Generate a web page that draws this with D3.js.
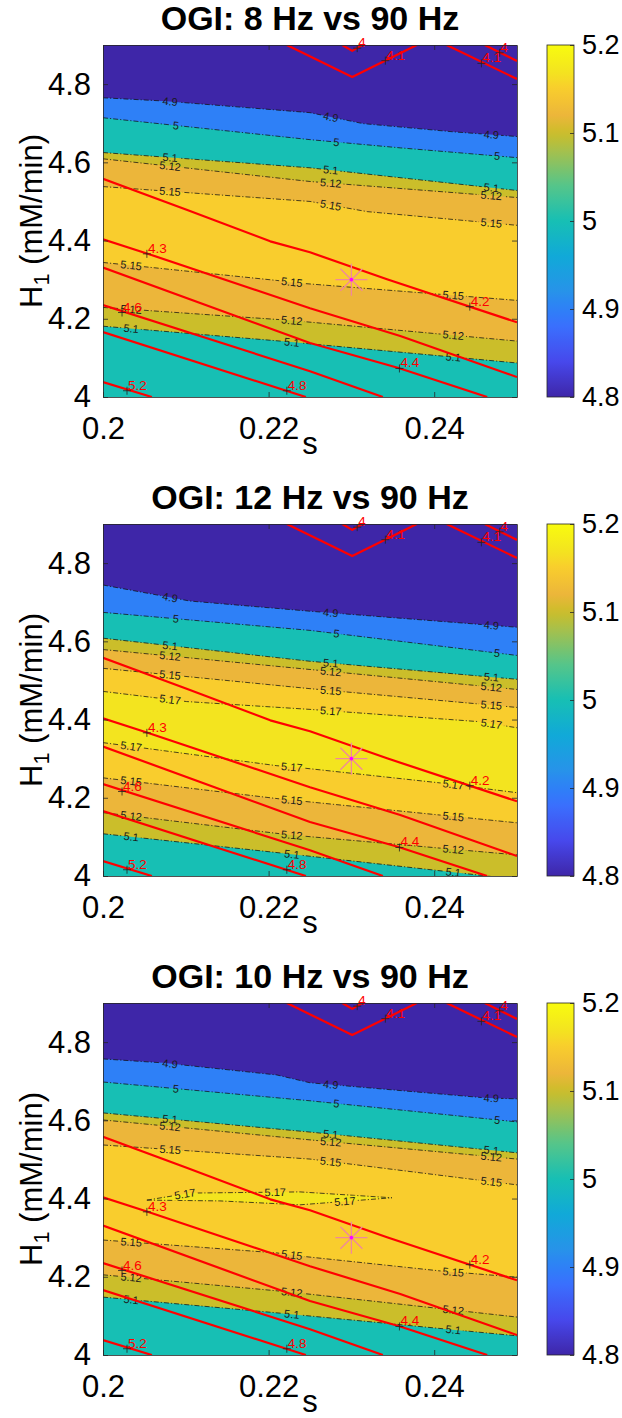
<!DOCTYPE html>
<html><head><meta charset="utf-8">
<script src="https://cdn.jsdelivr.net/npm/d3@7"></script>
<style>
body{margin:0;background:#fff}
svg{display:block}
text{font-family:"Liberation Sans",Arial,Helvetica,sans-serif}
</style>
</head><body>
<svg id="c" width="622" height="1418"></svg>
<script>
// ---------------- DATA ----------------
const sDomain = [0.2, 0.25];
const hDomain = [4, 4.9];
const sTicks = [0.2, 0.22, 0.24];
const hTicks = [4, 4.2, 4.4, 4.6, 4.8];
const cbTicks = [4.8, 4.9, 5, 5.1, 5.2];
const cbDomain = [4.8, 5.2];
const titles = ["OGI: 8 Hz vs 90 Hz", "OGI: 12 Hz vs 90 Hz", "OGI: 10 Hz vs 90 Hz"];
const fillLevels = [4.8, 4.9, 5, 5.1, 5.12, 5.15, 5.17];

// label positions (s) along contour branches
const upperLabelS = [0.2081, 0.2275, 0.2469];
const lowerLabelS = [0.2034, 0.2228, 0.2423];
const islandLabelS = [0.2099, 0.2208, 0.2292];

// Panel 1 contours (8 Hz)
const panel1Contours = [
  {level: 4.9,  upper: [[0.2,4.765],[0.2072,4.757],[0.225,4.727],[0.2314,4.699],[0.2423,4.678],[0.25,4.666]], lower: null},
  {level: 5,    upper: [[0.2,4.714],[0.225,4.658],[0.2359,4.637],[0.25,4.612]], lower: null},
  {level: 5.1,  upper: [[0.2,4.625],[0.225,4.586],[0.25,4.528]], lower: [[0.2,4.181],[0.2214,4.143],[0.25,4.087]]},
  {level: 5.12, upper: [[0.2,4.609],[0.225,4.551],[0.25,4.510]], lower: [[0.2,4.229],[0.2226,4.196],[0.25,4.143]]},
  {level: 5.15, upper: [[0.2,4.538],[0.225,4.500],[0.2319,4.474],[0.25,4.439]], lower: [[0.2,4.344],[0.221,4.298],[0.2238,4.291],[0.25,4.247]]}
];
// Panel 2 contours (12 Hz)
const panel2Contours = [
  {level: 4.9,  upper: [[0.2,4.744],[0.2105,4.703],[0.225,4.677],[0.25,4.636]], lower: null},
  {level: 5,    upper: [[0.2,4.674],[0.225,4.628],[0.25,4.564]], lower: null},
  {level: 5.1,  upper: [[0.2,4.608],[0.225,4.549],[0.25,4.503]], lower: [[0.2,4.108],[0.2214,4.059],[0.2464,4.0],[0.25,3.99]]},
  {level: 5.12, upper: [[0.2,4.579],[0.225,4.528],[0.25,4.477]], lower: [[0.2,4.162],[0.2226,4.105],[0.25,4.054]]},
  {level: 5.15, upper: [[0.2,4.531],[0.225,4.479],[0.25,4.431]], lower: [[0.2,4.251],[0.2214,4.197],[0.25,4.136]]},
  {level: 5.17, upper: [[0.2,4.472],[0.2101,4.446],[0.225,4.426],[0.2452,4.395],[0.25,4.379]], lower: [[0.2,4.341],[0.221,4.282],[0.2238,4.277],[0.2407,4.238],[0.25,4.213]]}
];
// Panel 3 contours (10 Hz)
const panel3Contours = [
  {level: 4.9,  upper: [[0.2,4.757],[0.2072,4.747],[0.221,4.716],[0.225,4.696],[0.2464,4.657],[0.25,4.655]], lower: null},
  {level: 5,    upper: [[0.2,4.698],[0.225,4.650],[0.25,4.596]], lower: null},
  {level: 5.1,  upper: [[0.2,4.619],[0.225,4.570],[0.25,4.517]], lower: [[0.2,4.148],[0.2214,4.107],[0.25,4.049]]},
  {level: 5.12, upper: [[0.2,4.601],[0.225,4.550],[0.25,4.501]], lower: [[0.2,4.205],[0.2226,4.161],[0.25,4.097]]},
  {level: 5.15, upper: [[0.2,4.537],[0.225,4.501],[0.25,4.435]], lower: [[0.2,4.294],[0.221,4.261],[0.2238,4.253],[0.2407,4.215],[0.25,4.199]]},
  {level: 5.17, island: true, upper: [[0.2053,4.396],[0.2105,4.414],[0.2238,4.417],[0.2349,4.402]], lower: [[0.2053,4.396],[0.2141,4.394],[0.2238,4.384],[0.2349,4.402]]}
];
const panelContours = [panel1Contours, panel2Contours, panel3Contours];

// Red overlay contour lines (same in every panel)
const redLines = [
  [[0.2289,4.9],[0.2301,4.885],[0.2313,4.9]],
  [[0.2222,4.9],[0.2301,4.818],[0.2379,4.9]],
  [[0.2461,4.9],[0.25,4.859]],
  [[0.2415,4.9],[0.25,4.813]],
  [[0.2,4.558],[0.2101,4.479],[0.2202,4.398],[0.225,4.370],[0.2343,4.301],[0.25,4.191]],
  [[0.2,4.403],[0.2053,4.367],[0.225,4.227],[0.2359,4.156],[0.25,4.051]],
  [[0.2,4.331],[0.225,4.138],[0.2357,4.074],[0.2464,4.0]],
  [[0.2,4.235],[0.225,4.066],[0.2338,4.0]],
  [[0.2,4.166],[0.2245,4.0]],
  [[0.2,4.038],[0.2059,4.0]]
];
const redLabelText = ["4", "4.1", "4", "4.1", "4.2", "4.3", "4.4", "4.6", "4.8", "5.2"];
const redLabelS    = [0.2307, 0.2341, 0.2479, 0.2457, 0.2443, 0.2053, 0.2358, 0.2023, 0.2222, 0.2029];
const redLabelH    = [4.892, 4.860, 4.880, 4.853, 4.231, 4.366, 4.073, 4.216, 4.016, 4.016];

const optimum = [0.23, 4.3];

// parula-like colormap stops (t, colour)
const parulaT = [0, 0.1, 0.2, 0.25, 0.3, 0.4, 0.5, 0.6, 0.7, 0.75, 0.8, 0.875, 0.925, 1];
const parulaC = ["#3e26a8","#4748ec","#3a6ffd","#2e80f7","#2793e9","#11a9d8","#17bfb4","#55c58a","#a6c04c","#cbbe2a","#ecb63a","#f9cd2d","#f3e41f","#f9fb0e"];

// ---------------- LAYOUT ----------------
const plotX = [103, 517];
const panelTops = [45, 524, 1003];
const plotH = 352;
const cbX = [547, 574];
const axisCol = "#262626";
const tickFont = 31;

const svg = d3.select("#c");
const defs = svg.append("defs");
const x = d3.scaleLinear().domain(sDomain).range(plotX);
const parula = d3.scaleLinear().domain(parulaT).range(parulaC).interpolate(d3.interpolateRgb);
const cmap = v => parula((v - cbDomain[0]) / (cbDomain[1] - cbDomain[0]));

const grad = defs.append("linearGradient").attr("id", "cbgrad")
  .attr("x1", 0).attr("y1", 1).attr("x2", 0).attr("y2", 0);
d3.range(0, 1.0001, 0.02).forEach(t => {
  grad.append("stop").attr("offset", t).attr("stop-color", parula(t));
});

function interpAt(pts, s, y) {
  for (let k = 0; k < pts.length - 1; k++) {
    const a = pts[k], b = pts[k + 1];
    if ((s >= a[0] && s <= b[0]) || (s <= a[0] && s >= b[0])) {
      const t = (s - a[0]) / (b[0] - a[0] || 1);
      const h = a[1] + t * (b[1] - a[1]);
      const ang = Math.atan2(y(b[1]) - y(a[1]), x(b[0]) - x(a[0])) * 180 / Math.PI;
      return {px: x(s), py: y(h), ang};
    }
  }
  return null;
}

panelContours.forEach((contours, i) => {
  const top = panelTops[i], bot = top + plotH;
  const y = d3.scaleLinear().domain(hDomain).range([bot, top]);
  const line = d3.line().x(d => x(d[0])).y(d => y(d[1]));
  const g = svg.append("g");

  const clipId = "clip" + i;
  defs.append("clipPath").attr("id", clipId).append("rect")
    .attr("x", plotX[0]).attr("y", top).attr("width", plotX[1] - plotX[0]).attr("height", plotH);

  const plot = g.append("g").attr("clip-path", `url(#${clipId})`);
  plot.append("rect").attr("x", plotX[0]).attr("y", top)
    .attr("width", plotX[1] - plotX[0]).attr("height", plotH).attr("fill", cmap(fillLevels[0]));
  contours.forEach(c => {
    const poly = c.lower ? c.upper.concat(c.lower.slice().reverse())
      : c.upper.concat([[sDomain[1], hDomain[0] - 0.3], [sDomain[0], hDomain[0] - 0.3]]);
    plot.append("path").attr("d", line(poly) + "Z").attr("fill", cmap(c.level));
  });

  const maskId = "mask" + i;
  const mask = defs.append("mask").attr("id", maskId).attr("maskUnits", "userSpaceOnUse")
    .attr("x", 0).attr("y", 0).attr("width", 622).attr("height", 1418);
  mask.append("rect").attr("x", 0).attr("y", 0).attr("width", 622).attr("height", 1418).attr("fill", "#fff");
  const lineG = plot.append("g").attr("mask", `url(#${maskId})`);
  const labG = plot.append("g");
  contours.forEach(c => {
    const branches = [];
    if (c.island) {
      branches.push({pts: c.upper, labs: [islandLabelS[0], islandLabelS[1]]});
      branches.push({pts: c.lower, labs: [islandLabelS[2]]});
    } else {
      branches.push({pts: c.upper, labs: c.level === 5 ? upperLabelS.map(v => v + 0.0007) : upperLabelS});
      if (c.lower) branches.push({pts: c.lower, labs: lowerLabelS});
    }
    branches.forEach(b => {
      lineG.append("path").attr("d", line(b.pts)).attr("fill", "none")
        .attr("stroke", "#111").attr("stroke-width", 0.75)
        .attr("stroke-dasharray", "5,2,1.2,2");
      b.labs.forEach(s => {
        const p = interpAt(b.pts, s, y);
        if (!p) return;
        const tr = `translate(${p.px},${p.py}) rotate(${p.ang})`;
        const t = labG.append("text").attr("transform", tr)
          .attr("text-anchor", "middle").attr("dy", "0.35em")
          .attr("font-size", 11).attr("fill", "#1a1a1a").text(String(c.level));
        const w = t.node().getComputedTextLength();
        mask.append("rect").attr("transform", tr).attr("x", -w / 2 - 2).attr("y", -5)
          .attr("width", w + 4).attr("height", 10).attr("fill", "#000");
      });
    });
  });

  redLines.forEach(r => {
    plot.append("path").attr("d", line(r)).attr("fill", "none")
      .attr("stroke", "#ff0000").attr("stroke-width", 2.2).attr("stroke-linejoin", "round");
  });
  redLabelText.forEach((txt, k) => {
    const px = x(redLabelS[k]), py = y(redLabelH[k]);
    plot.append("path").attr("d", `M${px - 4},${py}H${px + 4}M${px},${py - 4}V${py + 4}`)
      .attr("stroke", "#222").attr("stroke-width", 0.8);
  });

  const ox = x(optimum[0]), oy = y(optimum[1]);
  const star = plot.append("g").attr("stroke", "#f0889c").attr("stroke-width", 1.3);
  star.append("path").attr("d", `M${ox - 16},${oy}H${ox + 16}M${ox},${oy - 16}V${oy + 16}M${ox - 11},${oy - 11}L${ox + 11},${oy + 11}M${ox - 11},${oy + 11}L${ox + 11},${oy - 11}`);
  plot.append("circle").attr("cx", ox).attr("cy", oy).attr("r", 1.8).attr("fill", "#ff00ff");

  redLabelText.forEach((txt, k) => {
    const px = x(redLabelS[k]), py = y(redLabelH[k]);
    g.append("text").attr("x", px + 1).attr("y", py - 1).attr("font-size", 13.5)
      .attr("fill", "#ff0000").text(txt);
  });

  const xAxisB = d3.axisBottom(x).tickValues(sTicks).tickFormat(d => String(d))
    .tickSizeInner(-5).tickSizeOuter(0).tickPadding(20);
  const xAxisT = d3.axisTop(x).tickValues(sTicks).tickFormat("").tickSizeInner(-5).tickSizeOuter(0);
  const yAxisL = d3.axisLeft(y).tickValues(hTicks).tickFormat(d => String(d))
    .tickSizeInner(-5).tickSizeOuter(0).tickPadding(12);
  const yAxisR = d3.axisRight(y).tickValues(hTicks).tickFormat("").tickSizeInner(-5).tickSizeOuter(0);
  const axes = [
    g.append("g").attr("transform", `translate(0,${bot})`).call(xAxisB),
    g.append("g").attr("transform", `translate(0,${top})`).call(xAxisT),
    g.append("g").attr("transform", `translate(${plotX[0]},0)`).call(yAxisL),
    g.append("g").attr("transform", `translate(${plotX[1]},0)`).call(yAxisR)
  ];
  axes.forEach(a => {
    a.selectAll("path.domain").attr("stroke", axisCol).attr("stroke-width", 0.8);
    a.selectAll(".tick line").attr("stroke", axisCol).attr("stroke-width", 0.8);
    a.selectAll("text").attr("font-size", tickFont).attr("fill", "#000").attr("font-family", null);
  });

  g.append("text").attr("x", (plotX[0] + plotX[1]) / 2).attr("y", top - 15)
    .attr("text-anchor", "middle").attr("font-size", 34).attr("font-weight", "bold").text(titles[i]);
  g.append("text").attr("x", (plotX[0] + plotX[1]) / 2).attr("y", bot + 57)
    .attr("text-anchor", "middle").attr("font-size", tickFont).text("s");
  const yl = g.append("text").attr("transform", `translate(42,${(top + bot) / 2}) rotate(-90)`)
    .attr("text-anchor", "middle").attr("font-size", tickFont);
  yl.append("tspan").text("H");
  yl.append("tspan").attr("font-size", tickFont * 0.7).attr("dy", 7).text("1");
  yl.append("tspan").attr("dy", -7).text(" (mM/min)");

  const cbY = d3.scaleLinear().domain(cbDomain).range([bot, top]);
  g.append("rect").attr("x", cbX[0]).attr("y", top).attr("width", cbX[1] - cbX[0]).attr("height", plotH)
    .attr("fill", "url(#cbgrad)");
  const cbAxis = d3.axisRight(cbY).tickValues(cbTicks).tickFormat(d => String(d))
    .tickSizeInner(-4).tickSizeOuter(0).tickPadding(8);
  const cba = g.append("g").attr("transform", `translate(${cbX[1]},0)`).call(cbAxis);
  cba.select("path.domain").remove();
  cba.selectAll(".tick line").attr("stroke", axisCol).attr("stroke-width", 0.8);
  cba.selectAll("text").attr("font-size", 27).attr("fill", "#000").attr("font-family", null);
  g.append("rect").attr("x", cbX[0]).attr("y", top).attr("width", cbX[1] - cbX[0]).attr("height", plotH)
    .attr("fill", "none").attr("stroke", axisCol).attr("stroke-width", 0.8);
});
</script>
</body></html>
